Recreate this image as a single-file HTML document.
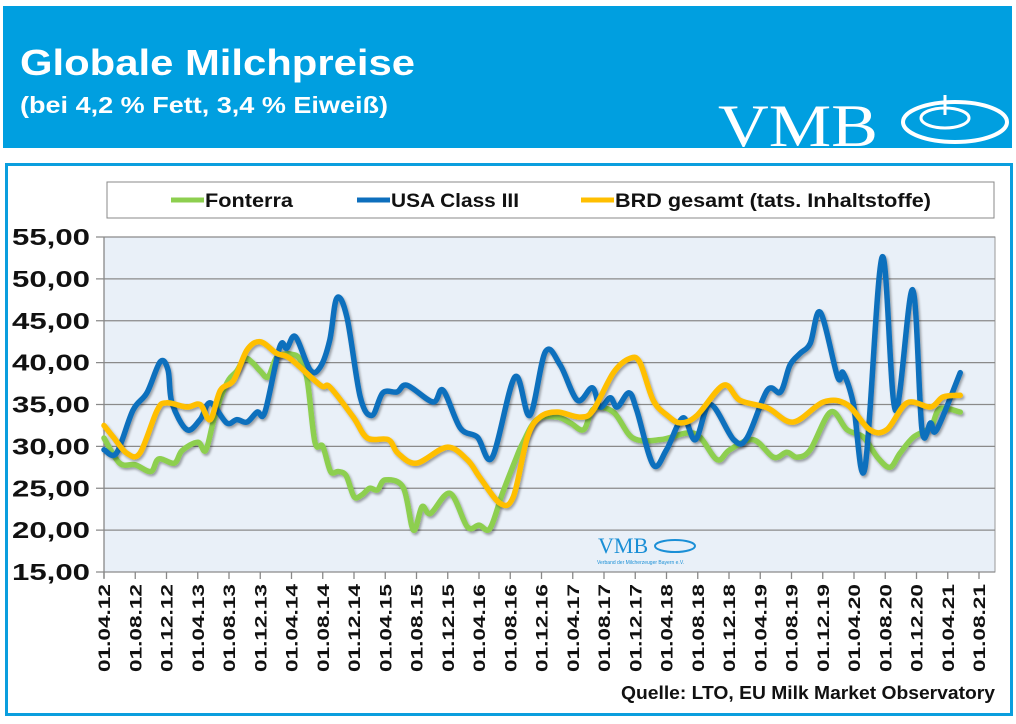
<!DOCTYPE html>
<html><head><meta charset="utf-8"><style>
html,body{margin:0;padding:0;background:#fff;}
body{width:1016px;height:724px;position:relative;overflow:hidden;font-family:"Liberation Sans",sans-serif;}
#hdr{position:absolute;left:3px;top:6px;width:1009px;height:142px;background:#009fe0;}
#frame{position:absolute;left:5px;top:163px;width:1002px;height:547px;border:3px solid #0a9ede;box-sizing:content-box;}
svg{position:absolute;left:0;top:0;}
</style></head><body>
<div id="hdr"></div>
<div id="frame"></div>
<svg id="s" width="1016" height="724">
<text x="20" y="75" font-size="36" font-weight="bold" fill="#fff" textLength="395" lengthAdjust="spacingAndGlyphs">Globale Milchpreise</text>
<text x="20" y="113" font-size="23" font-weight="bold" fill="#fff" textLength="368" lengthAdjust="spacingAndGlyphs">(bei 4,2 % Fett, 3,4 % Eiweiß)</text>
<text x="718" y="146" font-size="60" font-family="Liberation Serif,serif" fill="#fff" textLength="160" lengthAdjust="spacingAndGlyphs">VMB</text>
<g fill="none" stroke="#fff" stroke-width="4">
<ellipse cx="955" cy="122" rx="52" ry="20"/><ellipse cx="945" cy="118" rx="24" ry="10" stroke-width="3"/><path d="M945 95v20" stroke-width="3"/></g>
<rect x="107" y="182" width="887" height="36" fill="#fff" stroke="#888" stroke-width="1"/>
<g id="plot"></g>
<text x="995" y="699" text-anchor="end" font-size="18" font-weight="bold" fill="#111" textLength="374" lengthAdjust="spacingAndGlyphs">Quelle:  LTO, EU Milk Market Observatory</text>
</svg>
<script>
// month offsets since 01.04.2012 and values
const fonM=[0,2,4,6,7,9,10,12,13,14,15,16,17,18,19,20,21,22,23,24,25,26,27,28,29,30,31,32,33,34,35,36,38.3,39.6,40.7,41.8,44.3,46.5,48,49.4,51,52.8,53.6,55.4,58,59.7,61.4,62.7,65.2,67.7,71.2,74.6,76.3,78.5,80.1,83.1,85.7,87.4,88.7,90.4,93,95.1,97.2,99,100.6,101.9,103.6,105.8,107,109.6];
const fonV=[31,28,27.8,27,28.5,28,29.5,30.5,29.5,33,36,38,39,40.5,40,39,38.3,40.5,41,41,40.5,38,30.5,30,27,27,26.5,24,24.2,25,24.8,26,25.1,20,22.8,22,24.4,20.4,20.6,20.2,24.4,28.7,30.4,33.2,33.5,32.8,32,34.5,34.1,31,30.8,31.6,31.1,28.4,29.6,30.8,28.7,29.3,28.7,29.6,34.1,32,31.1,28.7,27.5,29.2,31.1,32.3,34.5,34.1];
const usaM=[0,1.6,3.7,5.5,7.2,8.2,8.7,10.6,12.3,13.6,15.7,17,18.3,19.6,20.6,22.5,23.4,24.5,26.4,27.7,28.9,29.8,31.1,32.8,34.3,35.7,37.5,38.8,42.1,43.4,45.6,47.8,49.7,52.6,54.5,56.5,58.4,60.6,62.5,63.5,64.8,65.7,67.2,68.2,70.3,72,74.1,75.7,77.6,80.6,82.3,84.9,86.6,87.8,89.1,90.4,91.7,93.9,94.6,95.9,97.4,99.6,101.3,103.5,104.7,105.8,106.6,109.6];
const usaV=[29.6,29.2,34.3,36.4,40.1,39.1,35.2,32,33.2,35.2,32.8,33.2,32.9,34.1,34.1,41.9,41.7,43.1,39.1,39.5,42.7,47.7,45.4,35.9,33.7,36.4,36.5,37.3,35.3,36.7,32.2,31.1,28.7,38.3,33.7,41.3,39.7,35.5,37,34.7,35.8,34.7,36.4,34.3,27.8,29.6,33.4,30.8,35,30.8,31,36.7,36.5,39.7,41.1,42.3,46,38.3,38.8,35.2,27.4,52.6,34.3,48.7,32,32.8,32,38.8];
const brdM=[0,1.2,2.9,4.6,6.8,8,10.6,12.3,13.6,14.9,16.6,18.3,20,22.1,23.8,27.7,28.9,31.9,33.7,36.4,37.6,40,43.9,46.5,48.1,50.7,52.4,54.2,55.8,58,60.9,62.6,65.2,67.3,68.6,70.3,72.1,73.8,75.9,79.3,81.4,84.9,88.2,92.1,95.1,98,100.2,102.8,105.8,107.4,109.6];
const brdV=[32.5,31.1,29.2,29.2,34.3,35.2,34.7,35,33.2,36.7,37.9,41.5,42.5,41.1,40.5,37.3,37.1,33.5,31,30.8,29.2,28,29.9,28.4,26.3,23.2,24,31.1,33.5,34.1,33.5,34.3,38.8,40.5,40,35.5,33.7,32.8,33.7,37.3,35.5,34.6,32.9,35.3,35,32,32,35.2,34.7,35.9,36.1];
const yTicks=[15,20,25,30,35,40,45,50,55];
const xLabels=['01.04.12','01.08.12','01.12.12','01.04.13','01.08.13','01.12.13','01.04.14','01.08.14','01.12.14','01.04.15','01.08.15','01.12.15','01.04.16','01.08.16','01.12.16','01.04.17','01.08.17','01.12.17','01.04.18','01.08.18','01.12.18','01.04.19','01.08.19','01.12.19','01.04.20','01.08.20','01.12.20','01.04.21','01.08.21'];
const X0=104,X1=995,Y0=572,Y1=237,MPX=7.8125;
const xS=m=>X0+m*MPX, yS=v=>Y0-(v-15)*(Y0-Y1)/40;
const NS='http://www.w3.org/2000/svg';
const g=document.getElementById('plot');
function mk(t,a,p){const e=document.createElementNS(NS,t);for(const k in a)e.setAttribute(k,a[k]);(p||g).appendChild(e);return e;}
const bg=mk('rect',{x:X0,y:Y1,width:X1-X0,height:Y0-Y1,fill:'#e9f0f8',stroke:'#999'});


const defs=mk('defs',{});
const f=mk('filter',{id:'sh',x:'-5%',y:'-5%',width:'110%',height:'120%'},defs);
mk('feDropShadow',{dx:'1.5',dy:'2',stdDeviation:'1.2','flood-color':'#000','flood-opacity':'0.35'},f);
yTicks.forEach(v=>{
  const l=mk('line',{x1:X0-8,x2:X1,y1:yS(v),y2:yS(v),stroke:'#8a8a8a','stroke-width':1.3});
  
  
  const t=mk('text',{x:90,y:yS(v)+8,'text-anchor':'end','font-size':23,'font-weight':'bold',fill:'#111',textLength:78,lengthAdjust:'spacingAndGlyphs'});
  t.textContent=v.toFixed(2).replace('.',',');
  
  
});
mk('line',{x1:X0,x2:X0,y1:Y1,y2:Y0+6,stroke:'#888','stroke-width':1.3});
xLabels.forEach((s,i)=>{
  const x=xS(i*4);
  mk('line',{x1:x,x2:x,y1:Y0,y2:Y0+7,stroke:'#888','stroke-width':1.3});
  const t=mk('text',{x:0,y:0,transform:`translate(${x+6},${Y0+12}) rotate(-90)`,'text-anchor':'end','font-size':17,'font-weight':'bold',fill:'#111',textLength:88,lengthAdjust:'spacingAndGlyphs'});
  t.textContent=s;
  
  
});
// watermark
const wm=mk('text',{x:598,y:553,'font-size':22,'font-family':'Liberation Serif,serif',fill:'#1a8fd6'});
wm.textContent='VMB';


mk('ellipse',{cx:675,cy:546,rx:20,ry:6,fill:'none',stroke:'#1a8fd6','stroke-width':2});
const wt=mk('text',{x:597,y:564,'font-size':5,fill:'#1a8fd6'});
wt.textContent='Verband der Milcherzeuger Bayern e.V.';
function path(M,V){
  const p=M.map((m,i)=>[xS(m),yS(V[i])]);
  let d=`M${p[0][0]},${p[0][1]}`;
  for(let i=0;i<p.length-1;i++){
    const a=p[Math.max(0,i-1)],b=p[i],c=p[i+1],e=p[Math.min(p.length-1,i+2)];
    const c1=[b[0]+(c[0]-a[0])/6,b[1]+(c[1]-a[1])/6],c2=[c[0]-(e[0]-b[0])/6,c[1]-(e[1]-b[1])/6];
    d+=`C${c1[0]},${c1[1]} ${c2[0]},${c2[1]} ${c[0]},${c[1]}`;
  }
  return d;
}
const series=[['line-fonterra',fonM,fonV,'#8dcf4f'],['line-usa-class-iii',usaM,usaV,'#0e6fbd'],['line-brd-gesamt',brdM,brdV,'#ffbf00']];
series.forEach(s=>{
  const l=mk('path',{d:path(s[1],s[2]),fill:'none',stroke:s[3],'stroke-width':5.5,'stroke-linejoin':'round','stroke-linecap':'round',filter:'url(#sh)'});
  
  
});
const leg=[[171,'#8dcf4f','Fonterra',88],[357,'#0e6fbd','USA Class III',128],[581,'#ffbf00','BRD gesamt (tats. Inhaltstoffe)',316]];
leg.forEach(L=>{
  mk('line',{x1:L[0],x2:L[0]+33,y1:200,y2:200,stroke:L[1],'stroke-width':5});
  const t=mk('text',{x:L[0]+34,y:207,'font-size':19,'font-weight':'bold',fill:'#111',textLength:L[3],lengthAdjust:'spacingAndGlyphs'});
  t.textContent=L[2];
  
  
});
</script>
</body></html>
